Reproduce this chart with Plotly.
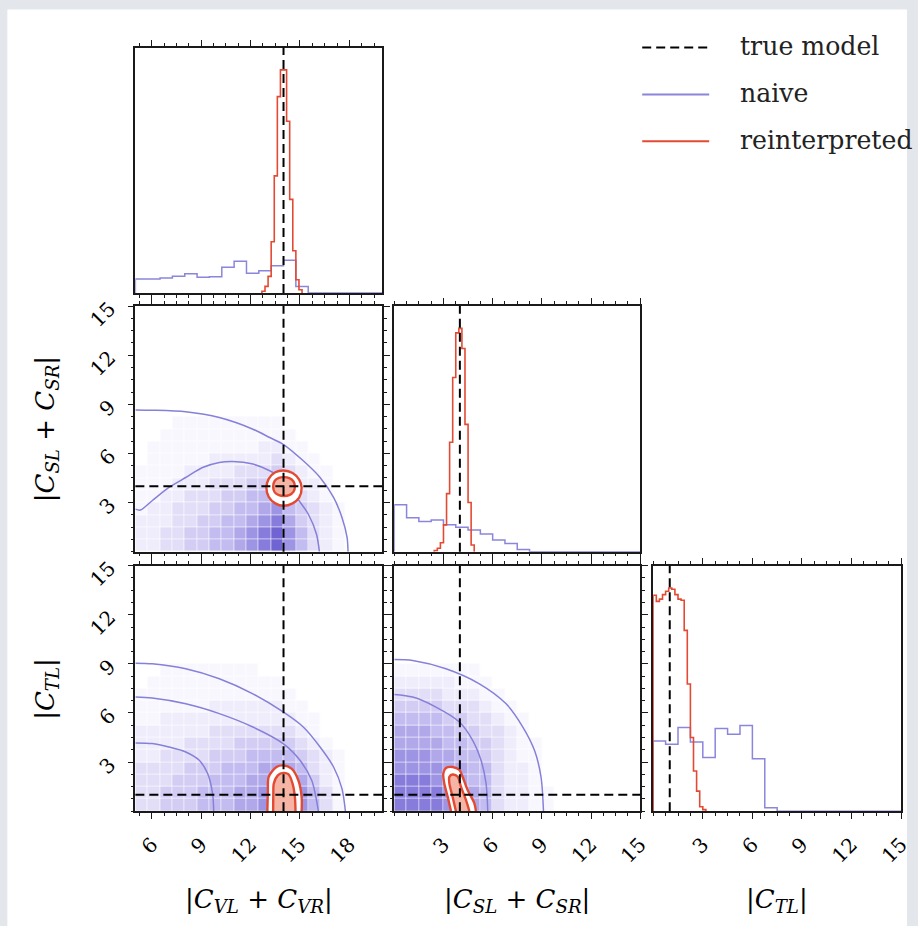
import plotly.graph_objects as go

W, H = 918, 926

# ---------------- data ----------------
true_vv, true_ss, true_tl = 14, 4, 1

range_vv = [5, 20]
range_015 = [0, 15]
ticks_vv = [6, 9, 12, 15, 18]
ticks_015 = [3, 6, 9, 12, 15]

# naive 1D histograms (20 bins over each axis range), relative heights
naive_vv = [0.063, 0.063, 0.068, 0.075, 0.087, 0.071, 0.073, 0.116, 0.143, 0.089,
            0.100, 0.123, 0.147, 0.030, 0, 0, 0, 0, 0, 0]
naive_ss = [0.210, 0.152, 0.135, 0.142, 0.120, 0.109, 0.097, 0.079, 0.052, 0.037,
            0.010, 0, 0, 0, 0, 0, 0, 0, 0, 0]
naive_tl = [0.315, 0.300, 0.375, 0.310, 0.240, 0.370, 0.345, 0.384, 0.235, 0.015,
            0, 0, 0, 0, 0, 0, 0, 0, 0, 0]

# reinterpreted 1D histograms (80 bins over axis range), first non-empty bin + heights
red_vv_first = 41
red_vv = [0.008, 0.03, 0.075, 0.23, 0.525, 0.88, 1.0, 1.0, 0.77, 0.42, 0.19, 0.06, 0.015]
red_ss_first = 13
red_ss = [0.005, 0.015, 0.04, 0.12, 0.26, 0.49, 0.78, 0.98, 1.0, 0.91, 0.57, 0.22, 0.03]
red_tl_first = 0
red_tl = [0.967, 0.94, 0.95, 0.97, 0.985, 1.0, 0.994, 0.97, 0.95, 0.945, 0.81, 0.57,
          0.33, 0.18, 0.09, 0.02, 0.007]

# naive 2D histograms (20x20 bins, rows from bottom), intensity 0-9
dens_vv_ss = [
    "22334455678975321000",
    "22334455678975321000",
    "22233445567864321000",
    "12233344556754321000",
    "11223334455643210000",
    "11122233344532210000",
    "11112222333432110000",
    "01111122222321100000",
    "01111111112211000000",
    "00111111111110000000",
    "00011111111100000000",
    "00000000000000000000",
]
dens_vv_tl = [
    "33444555667887531000",
    "33444555667887531000",
    "33344455566776421000",
    "33334445556665321000",
    "22333344455554321000",
    "22223333444443210000",
    "22222233333332100000",
    "11222222222221100000",
    "11111122222211000000",
    "11111111111110000000",
    "01111111111100000000",
    "00111111110000000000",
    "00000000000000000000",
]
dens_ss_tl = [
    "88887765322110000000",
    "88887765322110000000",
    "88877655322100000000",
    "77776655322100000000",
    "77766554321100000000",
    "66665544321100000000",
    "66655443321000000000",
    "55554433211000000000",
    "44443332110000000000",
    "33332221100000000000",
    "22222111000000000000",
    "11111110000000000000",
    "00000000000000000000",
]

# naive contour curves (x, y)
naive_c_vv_ss = [
    [(5, 8.66), (6.02, 8.64), (8.06, 8.54), (10.1, 8.19), (12.14, 7.48), (13.16, 6.97),
     (13.98, 6.56), (15.2, 5.55), (16.22, 4.53), (17.04, 3.31), (17.55, 2.09),
     (17.86, 0.87), (17.92, 0)],
    [(5, 2.6), (5.3, 2.54), (6.02, 3.11), (7.04, 3.92), (8.06, 4.53), (9.08, 5.14),
     (10.1, 5.45), (10.92, 5.51), (12.14, 5.35), (13.16, 4.94), (14.0, 4.4),
     (14.8, 3.31), (15.5, 2.3), (16.0, 1.08), (16.18, 0)],
]
naive_c_vv_tl = [
    [(5, 9.04), (6.02, 9.0), (8.06, 8.7), (10.1, 8.09), (12.14, 7.17), (13.98, 6.06),
     (15.2, 5.14), (16.22, 3.92), (17.04, 2.7), (17.55, 1.38), (17.76, 0)],
    [(5, 6.97), (6.02, 6.91), (8.06, 6.56), (10.1, 5.96), (12.14, 5.14), (13.98, 4.13),
     (15.0, 3.11), (15.71, 1.89), (16.12, 0)],
    [(5, 4.17), (6.02, 4.13), (7.04, 3.92), (8.06, 3.62), (8.88, 3.11), (9.39, 2.3),
     (9.69, 1.08), (9.76, 0)],
]
naive_c_ss_tl = [
    [(0, 9.27), (1.12, 9.21), (3.15, 8.7), (5.19, 7.78), (6.82, 6.56), (7.84, 5.14),
     (8.55, 3.72), (8.95, 2.09), (9.1, 0)],
    [(0, 7.13), (1.12, 6.97), (2.54, 6.36), (3.97, 5.45), (4.78, 4.33), (5.29, 3.11),
     (5.6, 1.69), (5.7, 0)],
]

# reinterpreted contour curves (outer, inner)
red_c_vv_ss = [
    [(12.96, 3.9), (13.1, 4.45), (13.5, 4.85), (14.0, 4.96), (14.55, 4.8), (14.95, 4.4),
     (15.1, 3.9), (14.95, 3.3), (14.55, 2.95), (14.0, 2.8), (13.5, 2.95), (13.1, 3.35),
     (12.96, 3.9)],
    [(13.37, 3.97), (13.47, 4.33), (13.72, 4.51), (14.03, 4.55), (14.35, 4.49),
     (14.6, 4.3), (14.69, 3.97), (14.6, 3.65), (14.35, 3.45), (14.03, 3.4),
     (13.72, 3.45), (13.47, 3.62), (13.37, 3.97)],
]
red_c_vv_tl = [
    [(13.02, 0), (13.05, 1.2), (13.1, 2.1), (13.57, 2.7), (13.98, 2.8), (14.49, 2.6),
     (14.9, 1.89), (15.1, 0.87), (15.1, 0)],
    [(13.37, 0), (13.38, 1.0), (13.41, 1.69), (13.67, 2.2), (13.98, 2.34), (14.29, 2.26),
     (14.55, 1.69), (14.69, 0.87), (14.73, 0)],
]
red_c_ss_tl = [
    [(3.46, 0), (3.26, 0.87), (3.05, 1.69), (2.99, 2.3), (3.15, 2.64), (3.56, 2.7),
     (3.97, 2.52), (4.17, 2.09), (4.48, 1.28), (4.88, 0.5), (4.98, 0)],
    [(3.76, 0), (3.56, 0.87), (3.36, 1.69), (3.36, 2.1), (3.56, 2.24), (3.87, 2.1),
     (4.07, 1.48), (4.37, 0.69), (4.58, 0)],
]

# ---------------- style / layout ----------------
C_RED = "#e34a33"
C_BLUE = "#8a86dc"
C_LINE = "#8580d8"
C_PINK = "#f5b4a4"
AX = "#1a1a1a"
FONT = "DejaVu Serif"
DENS_SCALE = [[0, "#ffffff"], [1 / 9, "#f8f7fe"], [2 / 9, "#efedfb"], [3 / 9, "#e2def7"],
              [5 / 9, "#c3bcf0"], [7 / 9, "#9e94e4"], [1, "#7064d2"]]

# target screen positions (px) of the panels
cols = [(136, 383), (395, 641), (654, 902)]
rows = [(46, 292), (305, 551), (565, 811)]


def fx(px):  # screen x (px) -> paper fraction
    return ((px - 0.6) / 0.9883) / W


def fy(py):  # screen y (px from top) -> paper fraction (from bottom)
    return 1 - ((py - 7.4) / 0.992) / H


def xdom(c):
    a, b = cols[c]
    return [fx(a), fx(b)]


def ydom(r):
    t, b = rows[r]
    return [fy(b), fy(t)]


fig = go.Figure()

panels = {(0, 0): 1, (1, 0): 2, (1, 1): 3, (2, 0): 4, (2, 1): 5, (2, 2): 6}
var_range = [range_vv, range_015, range_015]
var_ticks = [ticks_vv, ticks_015, ticks_015]
var_true = [true_vv, true_ss, true_tl]


def ax_common(rng, tv, show_labels, standoff):
    return dict(
        range=rng, showline=True, linecolor=AX, linewidth=1.5, mirror="ticks",
        ticks="outside", ticklen=6, tickwidth=1.2, tickcolor=AX,
        tickmode="array", tickvals=tv, showticklabels=show_labels,
        tickangle=-45, tickfont=dict(family=FONT, size=20, color="black"),
        ticklabelstandoff=standoff,
        minor=dict(ticks="outside", ticklen=3, tickwidth=1, tickcolor=AX,
                   tickmode="linear", tick0=0, dtick=0.75),
        showgrid=False, zeroline=False, fixedrange=True,
    )


layout_axes = {}
for (r, c), n in panels.items():
    xn = "xaxis" if n == 1 else f"xaxis{n}"
    yn = "yaxis" if n == 1 else f"yaxis{n}"
    xa = ax_common(var_range[c], var_ticks[c], r == 2, 6)
    xa.update(domain=xdom(c), anchor=f"y{n if n > 1 else ''}")
    if r == c:
        ya = dict(range=[0, 1.1], showline=True, linecolor=AX, linewidth=1.5,
                  mirror=True, ticks="", showticklabels=False, showgrid=False,
                  zeroline=False, fixedrange=True)
    else:
        ya = ax_common(var_range[r], var_ticks[r], c == 0, 14)
    ya.update(domain=ydom(r), anchor=f"x{n if n > 1 else ''}")
    layout_axes[xn] = xa
    layout_axes[yn] = ya


def axref(n):
    return ("x" if n == 1 else f"x{n}"), ("y" if n == 1 else f"y{n}")


def step_xy(edges, heights):
    xs = [edges[0]] + list(edges)
    ys = [0] + list(heights) + [0]
    return xs, ys


# 1D histograms
naive_h = [naive_vv, naive_ss, naive_tl]
red_h = [(red_vv_first, red_vv), (red_ss_first, red_ss), (red_tl_first, red_tl)]
for i in range(3):
    n = panels[(i, i)]
    xr, yr = axref(n)
    lo, hi = var_range[i]
    w20 = (hi - lo) / 20
    edges = [lo + k * w20 for k in range(21)]
    xs, ys = step_xy(edges, naive_h[i])
    fig.add_trace(go.Scatter(x=xs, y=ys, mode="lines", line=dict(color=C_BLUE, width=1.5, shape="hv"),
                             xaxis=xr, yaxis=yr, showlegend=False, hoverinfo="skip"))
    first, vals = red_h[i]
    w80 = (hi - lo) / 80
    edges = [lo + (first + k) * w80 for k in range(len(vals) + 1)]
    xs, ys = step_xy(edges, vals)
    fig.add_trace(go.Scatter(x=xs, y=ys, mode="lines", line=dict(color=C_RED, width=1.6, shape="hv"),
                             xaxis=xr, yaxis=yr, showlegend=False, hoverinfo="skip"))

# 2D panels
two_d = [
    ((1, 0), dens_vv_ss, naive_c_vv_ss, red_c_vv_ss),
    ((2, 0), dens_vv_tl, naive_c_vv_tl, red_c_vv_tl),
    ((2, 1), dens_ss_tl, naive_c_ss_tl, red_c_ss_tl),
]
for (r, c), dens, ncont, rcont in two_d:
    n = panels[(r, c)]
    xr, yr = axref(n)
    xlo, xhi = var_range[c]
    ylo, yhi = var_range[r]
    z = [[int(ch) for ch in row] for row in dens]
    xe = [xlo + k * (xhi - xlo) / 20 for k in range(21)]
    ye = [ylo + k * (yhi - ylo) / 20 for k in range(len(z) + 1)]
    fig.add_trace(go.Heatmap(x=xe, y=ye, z=z, zmin=0, zmax=9, xgap=0.6, ygap=0.6,
                             colorscale=DENS_SCALE, showscale=False,
                             xaxis=xr, yaxis=yr, hoverinfo="skip"))
    for curve in ncont:
        fig.add_trace(go.Scatter(x=[p[0] for p in curve], y=[p[1] for p in curve], mode="lines",
                                 line=dict(color=C_LINE, width=1.5, shape="spline", smoothing=0.8),
                                 xaxis=xr, yaxis=yr, showlegend=False, hoverinfo="skip"))
    outer, inner = rcont
    fig.add_trace(go.Scatter(x=[p[0] for p in outer], y=[p[1] for p in outer], mode="lines",
                             fill="toself", fillcolor="white",
                             line=dict(color=C_RED, width=2.4, shape="spline", smoothing=0.8),
                             xaxis=xr, yaxis=yr, showlegend=False, hoverinfo="skip"))
    fig.add_trace(go.Scatter(x=[p[0] for p in inner], y=[p[1] for p in inner], mode="lines",
                             fill="toself", fillcolor=C_PINK,
                             line=dict(color=C_RED, width=2.4, shape="spline", smoothing=0.8),
                             xaxis=xr, yaxis=yr, showlegend=False, hoverinfo="skip"))

shapes = [dict(type="rect", xref="paper", yref="paper", x0=fx(8), x1=1, y0=0, y1=fy(8),
               fillcolor="white", line=dict(width=0), layer="below")]
DASH = "9px,5px"
dash = dict(color="black", width=2, dash=DASH)
for (r, c), n in panels.items():
    xr, yr = axref(n)
    shapes.append(dict(type="line", xref=xr, yref=f"{yr} domain", x0=var_true[c], x1=var_true[c],
                       y0=0, y1=1, line=dash, layer="above"))
    if r != c:
        shapes.append(dict(type="line", xref=f"{xr} domain", yref=yr, x0=0, x1=1,
                           y0=var_true[r], y1=var_true[r], line=dash, layer="above"))

# legend (manual)
legend_items = [("true model", "black", DASH), ("naive", C_BLUE, "solid"), ("reinterpreted", C_RED, "solid")]
leg_y = [46, 93, 140]
annotations = []
for (label, col, d), yy in zip(legend_items, leg_y):
    shapes.append(dict(type="line", xref="paper", yref="paper", x0=fx(643), x1=fx(710),
                       y0=fy(yy), y1=fy(yy), line=dict(color=col, width=2, dash=d)))
    annotations.append(dict(text=label, xref="paper", yref="paper", x=fx(739), y=fy(yy - 1),
                            xanchor="left", yanchor="middle", showarrow=False,
                            font=dict(family=FONT, size=25.2, color="#222")))

# axis titles
xt = ["|<i>C</i><sub><i>VL</i></sub> + <i>C</i><sub><i>VR</i></sub>|",
      "|<i>C</i><sub><i>SL</i></sub> + <i>C</i><sub><i>SR</i></sub>|",
      "|<i>C</i><sub><i>TL</i></sub>|"]
for c in range(3):
    a, b = cols[c]
    annotations.append(dict(text=xt[c], xref="paper", yref="paper", x=fx((a + b) / 2), y=fy(900),
                            xanchor="center", yanchor="middle", showarrow=False,
                            font=dict(family=FONT, size=26, color="black")))
for r in (1, 2):
    t, b = rows[r]
    annotations.append(dict(text=xt[r], xref="paper", yref="paper", x=fx(47), y=fy((t + b) / 2),
                            xanchor="center", yanchor="middle", showarrow=False, textangle=-90,
                            font=dict(family=FONT, size=26, color="black")))

fig.update_layout(
    width=W, height=H, margin=dict(l=0, r=0, t=0, b=0),
    paper_bgcolor="#e3e7eb", plot_bgcolor="white",
    shapes=shapes, annotations=annotations, showlegend=False,
    **layout_axes,
)
fig.write_html("out.html", include_plotlyjs=True, config={"displayModeBar": False})
